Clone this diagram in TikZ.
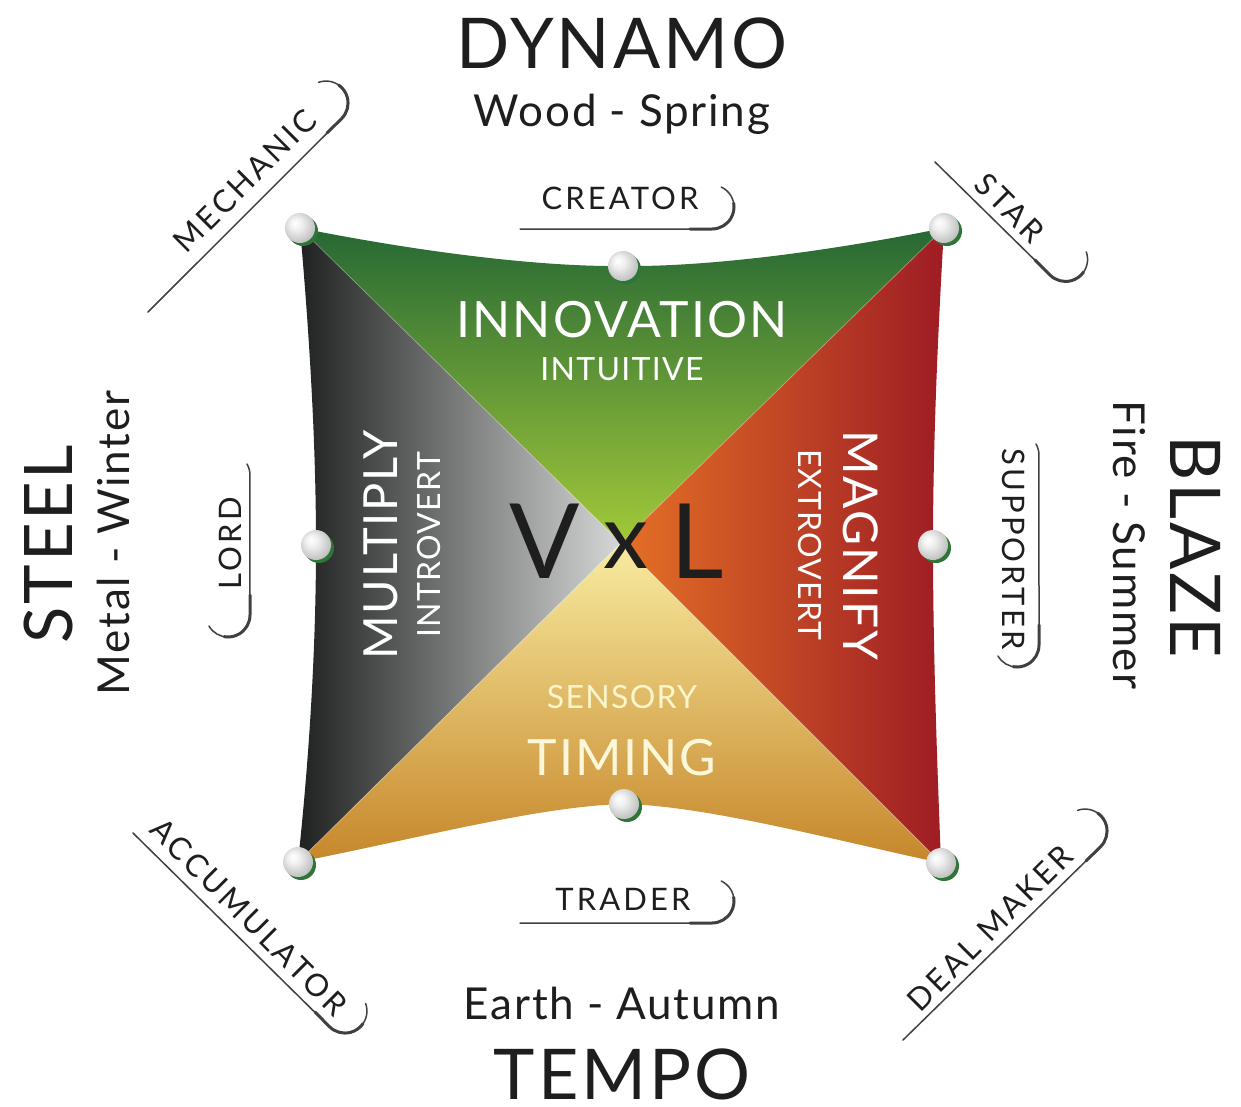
\documentclass[tikz,border=0pt]{standalone}
\usepackage{fontspec}
\setmainfont{Lato}[LetterSpace=4]
\newfontfamily\tabfont{Lato}[LetterSpace=10]
\usetikzlibrary{positioning}

\definecolor{ink}{RGB}{30,30,30}
\definecolor{grnD}{RGB}{38,104,52}
\definecolor{grnL}{RGB}{162,201,58}
\definecolor{grnS}{RGB}{46,118,56}
\definecolor{gryD}{RGB}{30,33,32}
\definecolor{gryL}{RGB}{214,216,216}
\definecolor{redD}{RGB}{158,28,36}
\definecolor{redL}{RGB}{228,112,38}
\definecolor{yelL}{RGB}{248,236,160}
\definecolor{yelM}{RGB}{236,200,32}
\definecolor{yelD}{RGB}{198,134,42}

\pgfdeclareradialshading{knobshade}{\pgfpoint{-9bp}{9bp}}{color(0bp)=(white); color(10bp)=(white!94!black); color(28bp)=(white!76!black); color(40bp)=(white!60!black); color(50bp)=(white!52!black)}

\begin{document}
\begin{tikzpicture}[x=1pt,y=1pt,yscale=-1,
    tabline/.style={draw=ink!85, line width=1.5pt, line cap=round},
    tabcurl/.style={draw=ink!85, line width=3pt, line cap=round},
    knob/.style={circle, inner sep=0pt, minimum size=30pt, shading=knobshade},
    knobshadow/.style={circle, inner sep=0pt, minimum size=30pt, fill=grnS},
    bigword/.style={font=\fontsize{70}{70}\selectfont, text=ink, inner sep=0pt, anchor=base},
    season/.style={font=\fontsize{44}{44}\selectfont, text=ink, inner sep=0pt, anchor=base},
    wingword/.style={font=\fontsize{50}{50}\selectfont, text=white, inner sep=0pt, anchor=base},
    wingsub/.style={font=\fontsize{32}{32}\selectfont, text=white, inner sep=0pt, anchor=base},
    tabword/.style={font=\tabfont\fontsize{31}{31}\selectfont, text=ink, inner sep=0pt}]
\useasboundingbox (0,0) rectangle (1241,1106);

% corner and edge points
\coordinate (tl) at (300,228);
\coordinate (tr) at (944,228);
\coordinate (bl) at (298,862);
\coordinate (br) at (941,863);
\coordinate (tm) at (623,266);
\coordinate (lm) at (316,545);
\coordinate (rm) at (933,545);
\coordinate (bm) at (624,804);
\coordinate (c) at (621,543);

% the four wings
\shade[top color=grnD, bottom color=grnL] (tl) .. controls (420,252) and (540,267) .. (tm) .. controls (706,267) and (826,252) .. (tr) -- (c) -- cycle;
\shade[left color=gryD, right color=gryL] (tl) .. controls (309,330) and (316,440) .. (lm) .. controls (316,650) and (309,760) .. (bl) -- (c) -- cycle;
\shade[left color=redL, right color=redD] (tr) .. controls (938,330) and (933,440) .. (rm) .. controls (933,650) and (937,760) .. (br) -- (c) -- cycle;
\shade[top color=yelL, middle color=yelM, bottom color=yelD] (bl) .. controls (420,838) and (540,806) .. (bm) .. controls (706,806) and (826,838) .. (br) -- (c) -- cycle;
\foreach \p in {tl,tr,bl,br}
    \draw[white, opacity=0.3, line width=0.8pt] (\p) -- (c);

% knobs
\foreach \p in {tl,tr,bl,br,tm,lm,rm,bm}{
    \node[knobshadow, xshift=3pt, yshift=-3pt] at (\p) {};
    \node[knob] (k\p) at (\p) {};
}

% tabs
\draw[tabline] (520,229) -- (712,229) arc(90:-65:22);
\draw[tabcurl] (690,229) -- (712,229) arc(90:-10:22);
\draw[tabline] (520,923) -- (712,923) arc(90:-65:22);
\draw[tabcurl] (690,923) -- (712,923) arc(90:-10:22);
\draw[tabline] (247,464) arc(-30:0:22) -- (250,615) arc(0:150:22);
\draw[tabcurl] (250,595) -- (250,615) arc(0:100:22);
\draw[tabline] (1036,444) arc(-30:0:22) -- (1039,645) arc(0:150:22);
\draw[tabcurl] (1039,625) -- (1039,645) arc(0:100:22);
\draw[tabline] (935,162) -- (1050,275) arc(135:-20:22);
\draw[tabcurl] (1035,260) -- (1050,275) arc(135:35:22);
\draw[tabline] (148,312) -- (341.6,118.6) arc(45:-110:22);
\draw[tabcurl] (327,133) -- (341.6,118.6) arc(45:-55:22);
\draw[tabline] (133,833) -- (329.4,1026.6) arc(135:-20:22);
\draw[tabcurl] (315,1012) -- (329.4,1026.6) arc(135:35:22);
\draw[tabline] (903,1040) -- (1100.6,846.6) arc(45:-110:22);
\draw[tabcurl] (1086,861) -- (1100.6,846.6) arc(45:-55:22);

% tab labels
\node[tabword, anchor=base] (creator) at (620,209) {CREATOR};
\node[tabword, anchor=base] (trader) at (623,910) {TRADER};
\node[tabword, anchor=base, rotate=90] (lord) at (241,543) {LORD};
\node[tabword, anchor=base, rotate=-90] (supporter) at (1002,549) {SUPPORTER};
\node[tabword, rotate=-45] (star) at (1010,208) {STAR};
\node[tabword, rotate=45] (mechanic) at (245,181) {MECHANIC};
\node[tabword, rotate=-45] (accumulator) at (249,917) {ACCUMULATOR};
\node[tabword, rotate=45] (dealmaker) at (990,928) {DEAL MAKER};

% outer names
\node[bigword] (dynamo) at (622,68) {DYNAMO};
\node[season] (wood) at (622,126) {Wood - Spring};
\node[season] (earth) at (622,1019) {Earth - Autumn};
\node[bigword] (tempo) at (622,1099) {TEMPO};
\node[bigword, font=\fontsize{67}{67}\selectfont, rotate=90] (steel) at (72,544) {STEEL};
\node[season, rotate=90] (metal) at (129,543) {Metal - Winter};
\node[bigword, rotate=-90] (blaze) at (1170,547) {BLAZE};
\node[season, rotate=-90] (fire) at (1113,545) {Fire - Summer};

% wing names
\node[wingword] (innovation) at (622,337) {INNOVATION};
\node[wingsub] (intuitive) at (622,380) {INTUITIVE};
\node[wingsub, text=yelL!55!white] (sensory) at (622,708) {SENSORY};
\node[wingword, text=yelL!40!white] (timing) at (622,775) {TIMING};
\node[wingword, font=\fontsize{47}{47}\selectfont, rotate=90] (multiply) at (397,545) {MULTIPLY};
\node[wingsub, rotate=90] (introvert) at (440,545) {INTROVERT};
\node[wingword, font=\fontsize{48}{48}\selectfont, rotate=-90] (magnify) at (843,545) {MAGNIFY};
\node[wingsub, rotate=-90] (extrovert) at (798,545) {EXTROVERT};

% centre
\node[bigword, font=\fontsize{104}{104}\selectfont] (v) at (545,578) {V};
\node[bigword, font=\fontsize{90}{90}\selectfont] (x) at (626,568) {x};
\node[bigword, font=\fontsize{104}{104}\selectfont] (l) at (697,578) {L};
\end{tikzpicture}
\end{document}
